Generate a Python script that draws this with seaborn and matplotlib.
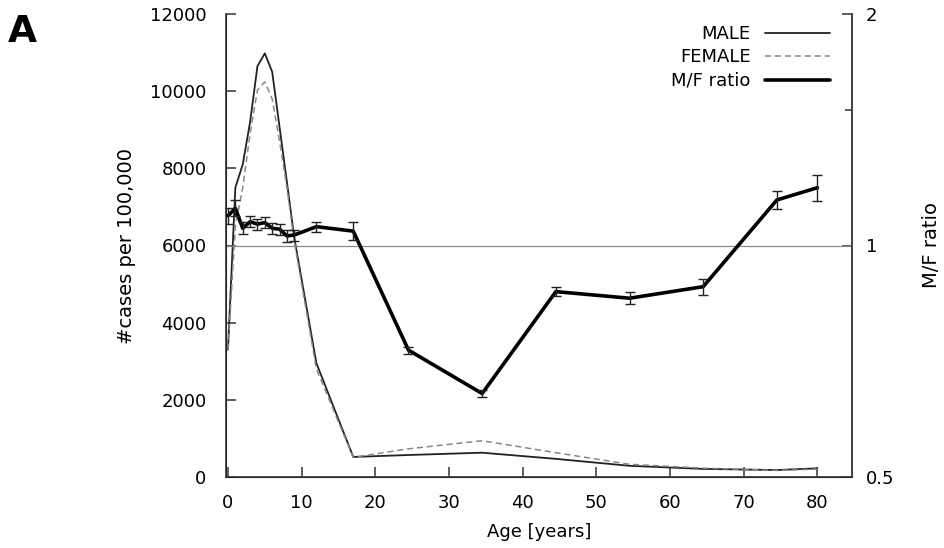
import numpy as np
import pandas as pd
import matplotlib
matplotlib.use("Agg")
import matplotlib.pyplot as plt
from matplotlib.ticker import NullFormatter
import seaborn as sns

# age groups (years) and incidence per 100,000
ages = [0, 1, 2, 3, 4, 5, 6, 7, 8, 9, 12, 17, 24.5, 34.5, 44.5, 54.5, 64.5, 74.5, 80]
male = [3300, 7500, 8100, 9200, 10650, 10980, 10500, 9070, 7640, 6200, 2950, 520,
        570, 630, 470, 290, 210, 180, 225]
female = [3300, 6500, 7500, 8900, 10030, 10240, 9800, 8700, 7500, 6100, 2800, 510,
          730, 940, 630, 330, 230, 170, 205]

# male/female ratio with error
ratio = [1.093, 1.118, 1.053, 1.074, 1.066, 1.071, 1.053, 1.050, 1.029, 1.032, 1.058, 1.044,
         0.731, 0.642, 0.871, 0.854, 0.884, 1.146, 1.189]
ratio_err = [0.026, 0.027, 0.019, 0.017, 0.017, 0.017, 0.017, 0.017, 0.017, 0.017, 0.016, 0.028,
             0.008, 0.007, 0.011, 0.015, 0.021, 0.031, 0.045]

df = pd.DataFrame({"age": ages, "male": male, "female": female,
                   "ratio": ratio, "err": ratio_err})

sns.set_style("ticks")
plt.rcParams["font.family"] = ["DejaVu Sans"]
plt.rcParams["xtick.direction"] = "in"
plt.rcParams["ytick.direction"] = "in"
plt.rcParams["text.color"] = "black"
plt.rcParams["axes.labelcolor"] = "black"
plt.rcParams["xtick.labelcolor"] = "black"
plt.rcParams["ytick.labelcolor"] = "black"

fig = plt.figure(figsize=(9.44, 5.48), dpi=100)
ax = fig.add_axes([226 / 944, 71 / 548, 626 / 944, 463 / 548])

sns.lineplot(data=df, x="age", y="male", ax=ax, color="#222222", lw=1.3, label="MALE")
sns.lineplot(data=df, x="age", y="female", ax=ax, color="#888888", lw=1.1,
             linestyle=(0, (4, 2.5)), label="FEMALE")
ax.set_xlim(-0.27, 84.7)
ax.set_ylim(0, 12000)
ax.set_xticks(range(0, 81, 10))
ax.set_yticks(range(0, 12001, 2000))
ax.set_xlabel("Age [years]", fontsize=13, labelpad=8)
ax.set_ylabel("#cases per 100,000", fontsize=14, labelpad=10)
ax.tick_params(labelsize=13, length=7, width=1.2, color="#444444")
ax.tick_params(axis="y", pad=14)
ax.tick_params(axis="x", pad=12)
ax.spines["top"].set_visible(False)
for s in ["left", "bottom", "right"]:
    ax.spines[s].set_linewidth(1.3)
    ax.spines[s].set_color("#444444")

ax2 = ax.twinx()
ax2.set_yscale("log")
ax2.set_ylim(0.5, 2)
ax2.axhline(1, color="#888888", lw=0.9, zorder=1)
sns.lineplot(data=df, x="age", y="ratio", ax=ax2, color="black", lw=2.6, label="M/F ratio",
             zorder=3)
ax2.errorbar(df["age"], df["ratio"], yerr=df["err"], fmt="none", ecolor="#222222",
             elinewidth=1.0, capsize=3.5, capthick=1.0, zorder=3)
ax2.set_yticks([0.5, 1, 2])
ax2.set_yticklabels(["0.5", "1", "2"])
ax2.set_yticks([1.5], minor=True)
ax2.yaxis.set_minor_formatter(NullFormatter())
ax2.tick_params(axis="y", which="minor", length=5, width=1.2, color="#444444")
ax2.tick_params(axis="y", which="major", labelsize=13, length=7, width=1.2, color="#444444", pad=10)
ax2.set_ylabel("M/F ratio", fontsize=14, labelpad=20)
ax2.spines["top"].set_visible(False)
ax2.spines["right"].set_linewidth(1.3)
ax2.spines["right"].set_color("#444444")

h1, l1 = ax.get_legend_handles_labels()
h2, l2 = ax2.get_legend_handles_labels()
ax.get_legend().remove()
ax2.get_legend().remove()
ax2.legend(h1 + h2, l1 + l2, loc="upper right", bbox_to_anchor=(830 / 944, 1 - 25 / 548),
           bbox_transform=fig.transFigure, frameon=False, markerfirst=False,
           fontsize=13, handlelength=3.6, labelspacing=0.3, borderpad=0, borderaxespad=0)

fig.text(8 / 944, 1 - 32 / 548, "A", fontsize=27, fontweight="bold", va="center", color="black")

fig.savefig("out.png", dpi=100)
